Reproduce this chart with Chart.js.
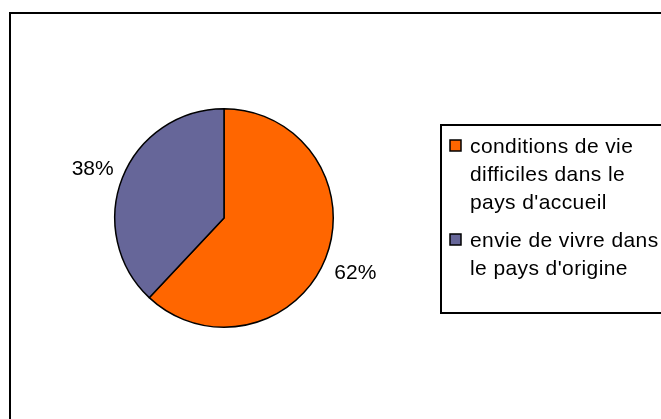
<!DOCTYPE html>
<html>
<head>
<meta charset="utf-8">
<style>
  html, body { margin: 0; padding: 0; background: #ffffff; }
  #wrap { position: relative; width: 661px; height: 419px; }
</style>
<script src="https://cdn.jsdelivr.net/npm/chart.js@4.4.0/dist/chart.umd.min.js"></script>
</head>
<body>
<div id="wrap"><canvas id="c" width="661" height="419"></canvas></div>
<script>
const categories = ["conditions de vie difficiles dans le pays d'accueil", "envie de vivre dans le pays d'origine"];
const legendLines = [["conditions de vie", "difficiles dans le", "pays d'accueil"], ["envie de vivre dans", "le pays d'origine"]];
const values = [62, 38];
const sliceColors = ["#FF6600", "#666699"];

const FONT = '"Liberation Sans", Arial, sans-serif';

const framePlugin = {
  id: 'frame',
  beforeDraw(chart) {
    const ctx = chart.ctx;
    ctx.save();
    ctx.fillStyle = '#ffffff';
    ctx.fillRect(0, 0, chart.width, chart.height);
    ctx.strokeStyle = '#000000';
    ctx.lineWidth = 2;
    ctx.strokeRect(10, 13, 720, 480);
    ctx.restore();
  }
};

const labelPlugin = {
  id: 'pctLabels',
  afterDatasetsDraw(chart) {
    const ctx = chart.ctx;
    const meta = chart.getDatasetMeta(0);
    const total = values.reduce((a, b) => a + b, 0);
    ctx.save();
    ctx.font = '21px ' + FONT;
    ctx.fillStyle = '#000000';
    ctx.textAlign = 'center';
    ctx.textBaseline = 'middle';
    meta.data.forEach((arc, i) => {
      const p = arc.getProps(['x', 'y', 'startAngle', 'endAngle', 'outerRadius'], true);
      const mid = (p.startAngle + p.endAngle) / 2;
      const r = p.outerRadius + 32;
      const x = p.x + Math.cos(mid) * r;
      const y = p.y + Math.sin(mid) * r + 3;
      ctx.fillText(Math.round(values[i] / total * 100) + '%', x, y);
    });
    ctx.restore();
  }
};

const legendPlugin = {
  id: 'boxLegend',
  afterDraw(chart) {
    const ctx = chart.ctx;
    ctx.save();
    ctx.strokeStyle = '#000000';
    ctx.lineWidth = 2;
    ctx.strokeRect(441, 125, 300, 188);
    ctx.font = '21px ' + FONT;
    if ('letterSpacing' in ctx) ctx.letterSpacing = '0.4px';
    ctx.fillStyle = '#000000';
    ctx.textAlign = 'left';
    ctx.textBaseline = 'alphabetic';
    const groupStart = [153, 247];
    const lineH = 28;
    legendLines.forEach((lines, i) => {
      const b = groupStart[i];
      ctx.fillStyle = sliceColors[i];
      ctx.fillRect(450, b - 13, 11, 11);
      ctx.strokeStyle = '#000000';
      ctx.lineWidth = 1.5;
      ctx.strokeRect(450, b - 13, 11, 11);
      ctx.fillStyle = '#000000';
      lines.forEach((t, j) => ctx.fillText(t, 470, b + j * lineH));
    });
    ctx.restore();
  }
};

new Chart(document.getElementById('c'), {
  type: 'pie',
  data: {
    labels: categories,
    datasets: [{
      data: values,
      backgroundColor: sliceColors,
      borderColor: '#000000',
      borderWidth: 1.5,
      hoverOffset: 0,
      offset: 0
    }]
  },
  options: {
    responsive: false,
    animation: false,
    events: [],
    layout: { padding: { left: 114, top: 108, right: 327, bottom: 91 } },
    plugins: {
      legend: { display: false },
      tooltip: { enabled: false },
      title: { display: false }
    }
  },
  plugins: [framePlugin, labelPlugin, legendPlugin]
});
</script>
</body>
</html>
